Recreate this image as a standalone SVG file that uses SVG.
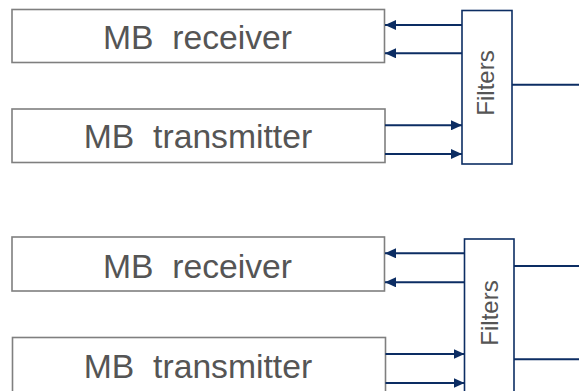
<svg xmlns="http://www.w3.org/2000/svg" width="579" height="391" viewBox="0 0 579 391">
  <style>
    .blk { fill: #ffffff; stroke: #7f7f7f; stroke-width: 1.6; }
    .flt { fill: #ffffff; stroke: #0c2d63; stroke-width: 1.6; }
    .lbl { font-family: "Liberation Sans", Arial, sans-serif; font-size: 33.7px; fill: #555555; text-anchor: middle; }
    .flbl { font-family: "Liberation Sans", Arial, sans-serif; font-size: 24px; fill: #555555; text-anchor: middle; }
    .wire { stroke: #0c2d63; stroke-width: 2; fill: none; }
    .arr { stroke: #0c2d63; stroke-width: 2; fill: none; marker-end: url(#tip); }
  </style>
  <defs>
    <marker id="tip" markerUnits="userSpaceOnUse" markerWidth="11" markerHeight="10" refX="11" refY="5" orient="auto">
      <path d="M0,0 L11,5 L0,10 Z" fill="#0c2d63"/>
    </marker>
  </defs>

  <!-- upper chain -->
  <g id="rx1">
    <rect class="blk" x="12" y="9.5" width="372.5" height="53"/>
    <text class="lbl" x="197.5" y="48.5" xml:space="preserve">MB  receiver</text>
  </g>
  <g id="tx1">
    <rect class="blk" x="12" y="109" width="373" height="53.5"/>
    <text class="lbl" x="198" y="147.5" xml:space="preserve">MB  transmitter</text>
  </g>
  <g id="filters1">
    <rect class="flt" x="462" y="10.5" width="50" height="153.5"/>
    <text class="flbl" transform="translate(494,83) rotate(-90)">Filters</text>
  </g>

  <!-- lower chain -->
  <g id="rx2">
    <rect class="blk" x="12" y="237" width="372.5" height="54"/>
    <text class="lbl" x="197.5" y="277.5" xml:space="preserve">MB  receiver</text>
  </g>
  <g id="tx2">
    <rect class="blk" x="12.5" y="337.5" width="373" height="60"/>
    <text class="lbl" x="198" y="377.5" xml:space="preserve">MB  transmitter</text>
  </g>
  <g id="filters2">
    <rect class="flt" x="464.5" y="239" width="49.5" height="160"/>
    <text class="flbl" transform="translate(498,313) rotate(-90)">Filters</text>
  </g>

  <g id="connectors">
    <!-- upper: filters to receiver -->
    <line class="arr" x1="462" y1="25" x2="385" y2="25"/>
    <line class="arr" x1="462" y1="53.3" x2="385" y2="53.3"/>
    <!-- upper: transmitter to filters -->
    <line class="arr" x1="385" y1="125.3" x2="462" y2="125.3"/>
    <line class="arr" x1="385" y1="154" x2="462" y2="154"/>
    <!-- upper: antenna side -->
    <line class="wire" x1="512" y1="84.7" x2="579" y2="84.7"/>

    <!-- lower: filters to receiver -->
    <line class="arr" x1="464.5" y1="253.3" x2="385" y2="253.3"/>
    <line class="arr" x1="464.5" y1="282.3" x2="385" y2="282.3"/>
    <!-- lower: transmitter to filters -->
    <line class="arr" x1="385.5" y1="354" x2="464.5" y2="354"/>
    <line class="arr" x1="385.5" y1="383" x2="464.5" y2="383"/>
    <!-- lower: antenna side -->
    <line class="wire" x1="514" y1="266" x2="579" y2="266"/>
    <line class="wire" x1="514" y1="359.3" x2="579" y2="359.3"/>
  </g>
</svg>
